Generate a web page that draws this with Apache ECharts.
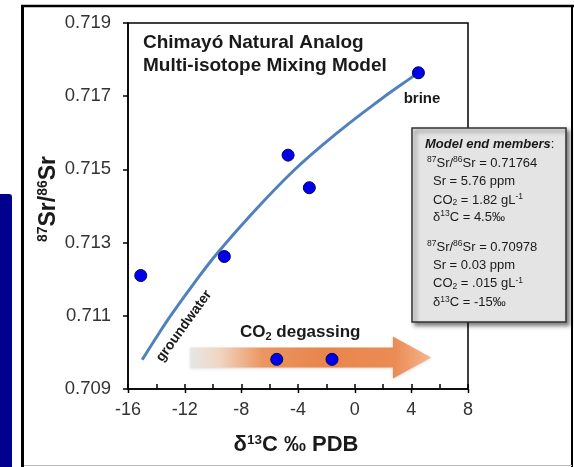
<!DOCTYPE html>
<html><head><meta charset="utf-8">
<script src="https://cdn.jsdelivr.net/npm/echarts@6/dist/echarts.min.js"></script>
<style>html,body{margin:0;padding:0;background:#fff}#c{width:574px;height:467px}</style>
</head><body><div id="c"></div>
<script>
// sample measurements (d13C, 87Sr/86Sr)
const sampleX = [-15.1, -9.2, -4.7, -3.2, 4.5, -5.5, -1.6];
const sampleY = [0.71210, 0.71262, 0.71539, 0.71450, 0.71764, 0.70981, 0.70981];
// mixing model curve
const curveX = [-15.0, -13.9, -12.9, -11.2, -9.8, -7.6, -4.3, -1.1, 1.9, 3.9, 4.5];
const curveY = [0.70980, 0.71047, 0.71105, 0.71196, 0.71266, 0.71364, 0.71497, 0.71604, 0.71693, 0.71748, 0.71764];
// axis settings
const xTicks = { min: -16, max: 8, step: 4 };
const xMajorTicks = [-16, -12, -8, -4, 0, 4, 8];
const yTicks = { min: 0.709, max: 0.719, step: 0.002 };
// CO2 degassing arrow (data coords): start, head base, tip, centre y
const arrowX = [-11.6, 2.7, 5.4];
const arrowY = 0.70986;

const FF = "'Liberation Sans', Arial, Helvetica, sans-serif";
const chart = echarts.init(document.getElementById('c'), null, { renderer: 'canvas' });

chart.setOption({
  animation: false,
  backgroundColor: '#fff',
  grid: { left: 128, top: 23, right: 106, bottom: 78, show: true, borderColor: '#000', borderWidth: 1.5, backgroundColor: 'transparent' },
  xAxis: {
    type: 'value', min: xTicks.min, max: xTicks.max, interval: xTicks.step, position: 'bottom',
    axisLine: { onZero: false, lineStyle: { color: '#000', width: 1.5 } },
    axisTick: { show: true, inside: true, length: 5, lineStyle: { color: '#000', width: 1.5 } },
    minorTick: { show: true, splitNumber: 2, length: 5, lineStyle: { color: '#000', width: 1.5 } },
    axisLabel: { fontSize: 18, color: '#333', margin: 12, fontFamily: FF },
    splitLine: { show: false }, minorSplitLine: { show: false }
  },
  yAxis: {
    type: 'value', min: yTicks.min, max: yTicks.max, interval: yTicks.step, position: 'left',
    axisLine: { show: true, onZero: false, lineStyle: { color: '#000', width: 1.5 } },
    axisTick: { show: true, inside: false, length: 5, lineStyle: { color: '#000', width: 1.5 } },
    axisLabel: { fontSize: 18.5, color: '#333', margin: 17, fontFamily: FF, formatter: v => v.toFixed(3) },
    splitLine: { show: false }
  },
  series: [{
    type: 'line', data: curveX.map((x, i) => [x, curveY[i]]), smooth: 0.4,
    showSymbol: false, symbol: 'none', lineStyle: { color: '#4f81bd', width: 3 }, z: 2, silent: true
  }, {
    type: 'scatter', data: sampleX.map((x, i) => [x, sampleY[i]]), symbolSize: 12,
    itemStyle: { color: '#0000ee', borderColor: '#000050', borderWidth: 1, opacity: 1 }, z: 5
  }]
});

const px = v => chart.convertToPixel({ gridIndex: 0 }, v);
const p0 = px([arrowX[0], arrowY]);
const p1 = px([arrowX[1], arrowY]);
const p2 = px([arrowX[2], arrowY]);
const cy = p0[1];
const sh = 10, hh = 21;
const axisY = px([xTicks.min, yTicks.min])[1];

// major ticks also cross below the axis line
const tickEls = xMajorTicks.map(v => {
  const x = Math.round(px([v, yTicks.min])[0]) + 0.5;
  return { type: 'line', z: 50, shape: { x1: x, y1: axisY, x2: x, y2: axisY + 4 }, style: { stroke: '#000', lineWidth: 1.5 } };
});

const txt = (x, y, text, extra) => Object.assign({ type: 'text', x, y, z: 100, style: Object.assign({ text, fontFamily: FF, fill: '#1a1a1a', align: 'left', verticalAlign: 'middle' }, extra.style || {}) }, extra.el || {});

const boxRich = {
  n: { fontSize: 13, fontFamily: FF, fill: '#1a1a1a', lineHeight: 15 },
  s: { fontSize: 8.5, fontFamily: FF, fill: '#1a1a1a', verticalAlign: 'top', lineHeight: 9 },
  u: { fontSize: 8.5, fontFamily: FF, fill: '#1a1a1a', verticalAlign: 'bottom', lineHeight: 9 },
  bi: { fontSize: 13, fontFamily: FF, fontWeight: 'bold', fontStyle: 'italic', fill: '#1a1a1a', lineHeight: 15 }
};
const boxLine = (x, y, text) => ({ type: 'text', x, y, z: 110, style: { text, rich: boxRich, align: 'left', verticalAlign: 'middle' } });

chart.setOption({
  graphic: { elements: tickEls.concat([
    // page decoration
    { type: 'rect', shape: { x: 0, y: 194, width: 12, height: 280, r: [0, 3, 0, 0] }, style: { fill: '#00008e' }, z: 1 },
    { type: 'line', shape: { x1: 22.5, y1: 5, x2: 22.5, y2: 467 }, style: { stroke: '#000', lineWidth: 3 }, z: 1 },
    { type: 'line', shape: { x1: 21, y1: 6, x2: 574, y2: 6 }, style: { stroke: '#000', lineWidth: 2.5 }, z: 1 },
    { type: 'line', shape: { x1: 572, y1: 5, x2: 572, y2: 467 }, style: { stroke: '#000', lineWidth: 2 }, z: 1 },
    { type: 'line', shape: { x1: 24, y1: 465.5, x2: 572, y2: 465.5 }, style: { stroke: '#bbb', lineWidth: 1 }, z: 1 },
    // arrow
    { type: 'polygon', z: 3, shape: { points: [
        [p0[0], cy - sh], [p1[0], cy - sh], [p1[0], cy - hh], [p2[0], cy], [p1[0], cy + hh], [p1[0], cy + sh], [p0[0], cy + sh]] },
      style: { fill: new echarts.graphic.LinearGradient(0, 0, 1, 0, [
        { offset: 0, color: '#e6e6e6' }, { offset: 0.12, color: '#f0d6c4' }, { offset: 0.3, color: '#eb9660' },
        { offset: 0.55, color: '#e8854c' }, { offset: 0.85, color: '#eb8c54' }, { offset: 1, color: '#f5b690' }]),
        shadowColor: 'rgba(0,0,0,0.15)', shadowBlur: 3, shadowOffsetY: 1 } },
    // titles
    txt(143, 43, 'Chimayó Natural Analog', { style: { fontSize: 19, fontWeight: 'bold' } }),
    txt(143, 65.5, 'Multi-isotope Mixing Model', { style: { fontSize: 19, fontWeight: 'bold' } }),
    txt(422, 99, 'brine', { style: { fontSize: 15, fontWeight: 'bold', align: 'center' } }),
    txt(184, 326, 'groundwater', { style: { fontSize: 14, fontWeight: 'bold', align: 'center' }, el: { rotation: 54 * Math.PI / 180 } }),
    { type: 'text', x: 240, y: 332, z: 100, style: { text: '{b|CO}{u|2}{b| degassing}', align: 'left', verticalAlign: 'middle',
      rich: { b: { fontSize: 17, fontWeight: 'bold', fontFamily: FF, fill: '#1a1a1a', lineHeight: 20 },
              u: { fontSize: 11, fontWeight: 'bold', fontFamily: FF, fill: '#1a1a1a', verticalAlign: 'bottom', lineHeight: 12 } } } },
    // axis titles
    { type: 'text', x: 49, y: 199, rotation: Math.PI / 2, z: 100, style: { text: '{s|87}{b|Sr/}{s|86}{b|Sr}', align: 'center', verticalAlign: 'middle',
      rich: { b: { fontSize: 23, fontWeight: 'bold', fontFamily: FF, fill: '#1a1a1a', lineHeight: 26 },
              s: { fontSize: 14, fontWeight: 'bold', fontFamily: FF, fill: '#1a1a1a', verticalAlign: 'top', lineHeight: 15 } } } },
    { type: 'text', x: 296, y: 445, z: 100, style: { text: '{b|δ}{s|13}{b|C ‰ PDB}', align: 'center', verticalAlign: 'middle',
      rich: { b: { fontSize: 22, fontWeight: 'bold', fontFamily: FF, fill: '#1a1a1a', lineHeight: 24 },
              s: { fontSize: 13.5, fontWeight: 'bold', fontFamily: FF, fill: '#1a1a1a', verticalAlign: 'top', lineHeight: 14 } } } },
    // model end member box
    { type: 'rect', z: 105, shape: { x: 412, y: 128, width: 154, height: 194 },
      style: { fill: '#e4e4e4', stroke: '#333', lineWidth: 1.5, shadowColor: 'rgba(0,0,0,0.5)', shadowBlur: 4, shadowOffsetX: 3, shadowOffsetY: 3 } },
    boxLine(425, 144, '{bi|Model end members}{n|:}'),
    boxLine(427, 163, '{s|87}{n|Sr/}{s|86}{n|Sr = 0.71764}'),
    boxLine(433, 181, '{n|Sr = 5.76 ppm}'),
    boxLine(433, 200, '{n|CO}{u|2}{n| = 1.82 gL}{s|-1}'),
    boxLine(433, 217, '{n|δ}{s|13}{n|C = 4.5‰}'),
    boxLine(427, 247, '{s|87}{n|Sr/}{s|86}{n|Sr = 0.70978}'),
    boxLine(433, 265.5, '{n|Sr = 0.03 ppm}'),
    boxLine(433, 283.5, '{n|CO}{u|2}{n| = .015 gL}{s|-1}'),
    boxLine(433, 302.5, '{n|δ}{s|13}{n|C = -15‰}')
  ]) }
});
</script>
</body></html>
